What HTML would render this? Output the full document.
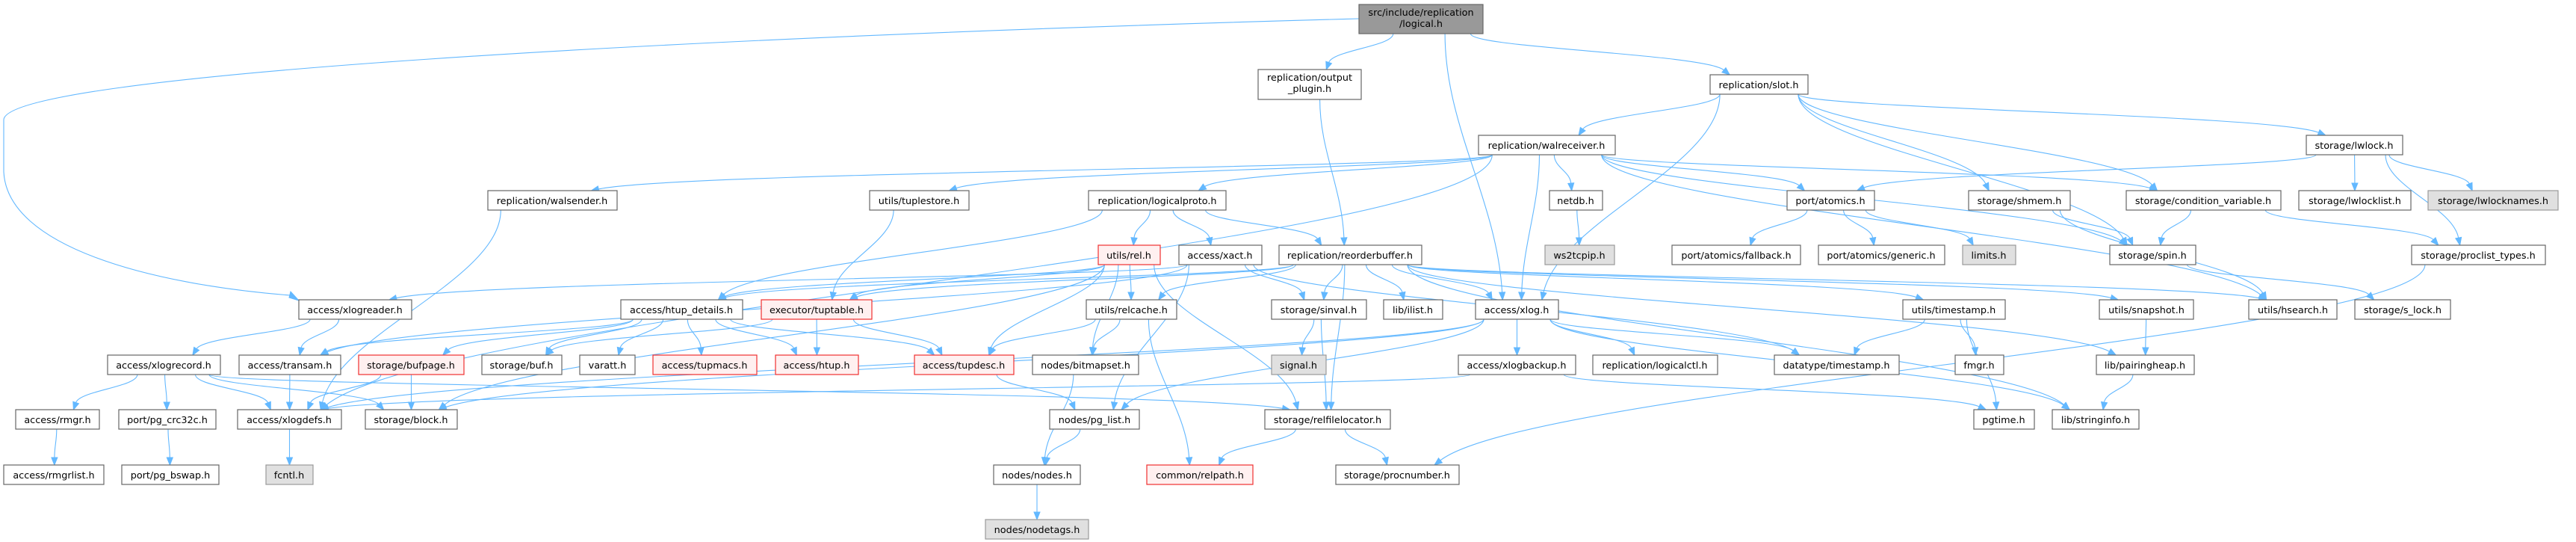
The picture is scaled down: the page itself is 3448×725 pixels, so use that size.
<!DOCTYPE html>
<html><head><meta charset="utf-8">
<style>
html,body{margin:0;padding:0;background:#fff;}
svg{display:block;}
text{font-family:"DejaVu Sans","Liberation Sans",sans-serif;font-size:12.8px;fill:#000;text-anchor:middle;}
.n{fill:#fff;stroke:#666;stroke-width:1.2;}
.r{fill:#fff0f0;stroke:#f03030;stroke-width:1.2;}
.g{fill:#e0e0e0;stroke:#999;stroke-width:1.2;}
.root{fill:#999;stroke:#666;stroke-width:1.2;}
.e{fill:none;stroke:#63b8ff;stroke-width:1.1;}
.a{fill:#63b8ff;stroke:#63b8ff;}
</style></head>
<body>
<svg id="s" width="3448" height="725" viewBox="0 0 3448 725" xmlns="http://www.w3.org/2000/svg">
<g id="edges"></g>
<g id="nodes">
<rect class="root" x="1819" y="6" width="166" height="39"/><text x="1902" y="21">src/include/replication</text><text x="1902" y="36">/logical.h</text>
<rect class="n" x="1684" y="93" width="138" height="40"/><text x="1753" y="108">replication/output</text><text x="1753" y="123">_plugin.h</text>
<rect class="n" x="2289" y="100" width="131" height="26"/><text x="2354" y="118">replication/slot.h</text>
<rect class="n" x="1979" y="181" width="183" height="26"/><text x="2070" y="199">replication/walreceiver.h</text>
<rect class="n" x="3087" y="181" width="129" height="26"/><text x="3151" y="199">storage/lwlock.h</text>

<rect class="n" x="653" y="255" width="173" height="26"/><text x="739" y="273">replication/walsender.h</text>
<rect class="n" x="1164" y="255" width="133" height="26"/><text x="1230" y="273">utils/tuplestore.h</text>
<rect class="n" x="1457" y="255" width="184" height="26"/><text x="1549" y="273">replication/logicalproto.h</text>
<rect class="n" x="2074" y="255" width="71" height="26"/><text x="2109" y="273">netdb.h</text>
<rect class="n" x="2392" y="255" width="117" height="26"/><text x="2450" y="273">port/atomics.h</text>
<rect class="n" x="2635" y="255" width="136" height="26"/><text x="2703" y="273">storage/shmem.h</text>
<rect class="n" x="2846" y="255" width="207" height="26"/><text x="2949" y="273">storage/condition_variable.h</text>
<rect class="n" x="3077" y="255" width="150" height="26"/><text x="3152" y="273">storage/lwlocklist.h</text>
<rect class="g" x="3250" y="255" width="174" height="26"/><text x="3337" y="273">storage/lwlocknames.h</text>

<rect class="r" x="1470" y="328" width="83" height="26"/><text x="1511" y="346">utils/rel.h</text>
<rect class="n" x="1578" y="328" width="111" height="26"/><text x="1633" y="346">access/xact.h</text>
<rect class="n" x="1712" y="328" width="191" height="26"/><text x="1807" y="346">replication/reorderbuffer.h</text>
<rect class="g" x="2068" y="328" width="93" height="26"/><text x="2114" y="346">ws2tcpip.h</text>
<rect class="n" x="2238" y="328" width="172" height="26"/><text x="2324" y="346">port/atomics/fallback.h</text>
<rect class="n" x="2434" y="328" width="169" height="26"/><text x="2518" y="346">port/atomics/generic.h</text>
<rect class="g" x="2627" y="328" width="71" height="26"/><text x="2662" y="346">limits.h</text>
<rect class="n" x="2824" y="328" width="115" height="26"/><text x="2881" y="346">storage/spin.h</text>
<rect class="n" x="3228" y="328" width="179" height="26"/><text x="3317" y="346">storage/proclist_types.h</text>

<rect class="n" x="400" y="401" width="151" height="26"/><text x="475" y="419">access/xlogreader.h</text>
<rect class="n" x="831" y="401" width="163" height="26"/><text x="912" y="419">access/htup_details.h</text>
<rect class="r" x="1019" y="401" width="148" height="26"/><text x="1093" y="419">executor/tuptable.h</text>
<rect class="n" x="1454" y="401" width="121" height="26"/><text x="1514" y="419">utils/relcache.h</text>
<rect class="n" x="1702" y="401" width="127" height="26"/><text x="1765" y="419">storage/sinval.h</text>
<rect class="n" x="1852" y="401" width="79" height="26"/><text x="1891" y="419">lib/ilist.h</text>
<rect class="n" x="1975" y="401" width="111" height="26"/><text x="2030" y="419">access/xlog.h</text>
<rect class="n" x="2547" y="401" width="137" height="26"/><text x="2615" y="419">utils/timestamp.h</text>
<rect class="n" x="2810" y="401" width="126" height="26"/><text x="2873" y="419">utils/snapshot.h</text>
<rect class="n" x="3010" y="401" width="118" height="26"/><text x="3069" y="419">utils/hsearch.h</text>
<rect class="n" x="3152" y="401" width="128" height="26"/><text x="3216" y="419">storage/s_lock.h</text>

<rect class="n" x="144" y="475" width="151" height="26"/><text x="219" y="493">access/xlogrecord.h</text>
<rect class="n" x="320" y="475" width="136" height="26"/><text x="388" y="493">access/transam.h</text>
<rect class="r" x="480" y="475" width="141" height="26"/><text x="550" y="493">storage/bufpage.h</text>
<rect class="n" x="645" y="475" width="107" height="26"/><text x="698" y="493">storage/buf.h</text>
<rect class="n" x="776" y="475" width="74" height="26"/><text x="813" y="493">varatt.h</text>
<rect class="r" x="874" y="475" width="139" height="26"/><text x="943" y="493">access/tupmacs.h</text>
<rect class="r" x="1038" y="475" width="111" height="26"/><text x="1093" y="493">access/htup.h</text>
<rect class="r" x="1224" y="475" width="133" height="26"/><text x="1290" y="493">access/tupdesc.h</text>
<rect class="n" x="1382" y="475" width="142" height="26"/><text x="1453" y="493">nodes/bitmapset.h</text>
<rect class="g" x="1702" y="475" width="73" height="26"/><text x="1738" y="493">signal.h</text>
<rect class="n" x="1952" y="475" width="157" height="26"/><text x="2030" y="493">access/xlogbackup.h</text>
<rect class="n" x="2132" y="475" width="167" height="26"/><text x="2215" y="493">replication/logicalctl.h</text>
<rect class="n" x="2375" y="475" width="167" height="26"/><text x="2458" y="493">datatype/timestamp.h</text>
<rect class="n" x="2617" y="475" width="65" height="26"/><text x="2649" y="493">fmgr.h</text>
<rect class="n" x="2806" y="475" width="131" height="26"/><text x="2871" y="493">lib/pairingheap.h</text>

<rect class="n" x="21" y="548" width="112" height="26"/><text x="77" y="566">access/rmgr.h</text>
<rect class="n" x="159" y="548" width="130" height="26"/><text x="224" y="566">port/pg_crc32c.h</text>
<rect class="n" x="318" y="548" width="139" height="26"/><text x="387" y="566">access/xlogdefs.h</text>
<rect class="n" x="489" y="548" width="123" height="26"/><text x="550" y="566">storage/block.h</text>
<rect class="n" x="1405" y="548" width="120" height="26"/><text x="1465" y="566">nodes/pg_list.h</text>
<rect class="n" x="1693" y="548" width="168" height="26"/><text x="1777" y="566">storage/relfilelocator.h</text>
<rect class="n" x="2642" y="548" width="81" height="26"/><text x="2682" y="566">pgtime.h</text>
<rect class="n" x="2747" y="548" width="116" height="26"/><text x="2805" y="566">lib/stringinfo.h</text>

<rect class="n" x="5" y="622" width="134" height="26"/><text x="72" y="640">access/rmgrlist.h</text>
<rect class="n" x="163" y="622" width="130" height="26"/><text x="228" y="640">port/pg_bswap.h</text>
<rect class="g" x="356" y="622" width="63" height="26"/><text x="387" y="640">fcntl.h</text>
<rect class="n" x="1330" y="622" width="116" height="26"/><text x="1388" y="640">nodes/nodes.h</text>
<rect class="r" x="1535" y="622" width="142" height="26"/><text x="1606" y="640">common/relpath.h</text>
<rect class="n" x="1788" y="622" width="165" height="26"/><text x="1870" y="640">storage/procnumber.h</text>

<rect class="g" x="1319" y="695" width="138" height="26"/><text x="1388" y="713">nodes/nodetags.h</text>
</g>
</svg>
<script>
(function(){
var N={
root:[1819,6,166,39],op:[1684,93,138,40],slot:[2289,100,131,26],walrcv:[1979,181,183,26],lwlock:[3087,181,129,26],
walsnd:[653,255,173,26],tstore:[1164,255,133,26],lproto:[1457,255,184,26],netdb:[2074,255,71,26],atomics:[2392,255,117,26],shmem:[2635,255,136,26],cv:[2846,255,207,26],lwlist:[3077,255,150,26],lwnames:[3250,255,174,26],
rel:[1470,328,83,26],xact:[1578,328,111,26],rb:[1712,328,191,26],ws2:[2068,328,93,26],fb:[2238,328,172,26],gen:[2434,328,169,26],limits:[2627,328,71,26],spin:[2824,328,115,26],plt:[3228,328,179,26],
xlr:[400,401,151,26],hd:[831,401,163,26],tt:[1019,401,148,26],relc:[1454,401,121,26],sinval:[1702,401,127,26],ilist:[1852,401,79,26],xlog:[1975,401,111,26],uts:[2547,401,137,26],snap:[2810,401,126,26],hs:[3010,401,118,26],slock:[3152,401,128,26],
xrec:[144,475,151,26],transam:[320,475,136,26],bufpage:[480,475,141,26],buf:[645,475,107,26],varatt:[776,475,74,26],tupmacs:[874,475,139,26],htup:[1038,475,111,26],tupdesc:[1224,475,133,26],bms:[1382,475,142,26],signal:[1702,475,73,26],xbk:[1952,475,157,26],lctl:[2132,475,167,26],dts:[2375,475,167,26],fmgr:[2617,475,65,26],ph:[2806,475,131,26],
rmgr:[21,548,112,26],crc:[159,548,130,26],xdefs:[318,548,139,26],block:[489,548,123,26],pglist:[1405,548,120,26],rfl:[1693,548,168,26],pgtime:[2642,548,81,26],si:[2747,548,116,26],
rmgrlist:[5,622,134,26],bswap:[163,622,130,26],fcntl:[356,622,63,26],nodes:[1330,622,116,26],relpath:[1535,622,142,26],procnum:[1788,622,165,26],nodetags:[1319,695,138,26]};
var E=[["root","op"],["root","slot"],["root","xlog"],["op","rb"],
["slot","walrcv"],["slot","xlog"],["slot","lwlock"],["slot","shmem"],["slot","spin"],["slot","cv"],
["walrcv","walsnd"],["walrcv","tstore"],["walrcv","lproto"],["walrcv","netdb"],["walrcv","xlog"],["walrcv","atomics"],["walrcv","cv"],["walrcv","spin"],["walrcv","hs"],["walrcv","xdefs"],
["netdb","ws2"],
["walsnd","xdefs"],["tstore","tt"],
["lproto","rel"],["lproto","xact"],["lproto","rb"],["lproto","hd"],
["rel","relc"],["rel","tupdesc"],["rel","bms"],["rel","rfl"],["rel","hd"],["rel","block"],["rel","tt"],
["xact","pglist"],["xact","sinval"],["xact","dts"],["xact","transam"],["xact","xlr"],
["rb","sinval"],["rb","ilist"],["rb","xlog"],["rb","hd"],["rb","tt"],["rb","uts"],["rb","snap"],["rb","hs"],["rb","rfl"],["rb","ph"],["rb","si"],["rb","relc"],
["relc","tupdesc"],["relc","bms"],["relc","relpath"],["sinval","signal"],["sinval","rfl"],
["xlog","xdefs"],["xlog","xbk"],["xlog","lctl"],["xlog","dts"],["xlog","si"],["xlog","pglist"],["xlog","block"],
["xbk","xdefs"],["xbk","pgtime"],
["xlr","xrec"],["xlr","transam"],["xrec","rmgr"],["xrec","crc"],["xrec","xdefs"],["xrec","block"],["xrec","rfl"],
["rmgr","rmgrlist"],["crc","bswap"],["xdefs","fcntl"],["transam","xdefs"],["bufpage","xdefs"],["bufpage","block"],
["hd","bufpage"],["hd","buf"],["hd","varatt"],["hd","tupmacs"],["hd","htup"],["hd","tupdesc"],["hd","transam"],
["tt","buf"],["tt","htup"],["tt","tupdesc"],["tupdesc","pglist"],["bms","nodes"],["pglist","nodes"],["nodes","nodetags"],
["rfl","relpath"],["rfl","procnum"],["atomics","fb"],["atomics","gen"],["atomics","limits"],["shmem","spin"],["shmem","hs"],
["cv","spin"],["cv","plt"],["lwlock","atomics"],["lwlock","lwlist"],["lwlock","lwnames"],["lwlock","plt"],["spin","slock"],["plt","procnum"],
["uts","dts"],["uts","fmgr"],["uts","pgtime"],["snap","ph"],["ph","si"]];
var g=document.getElementById("edges"),h="";
E.forEach(function(e){
 var s=N[e[0]],t=N[e[1]];
 var scx=s[0]+s[2]/2,tcx=t[0]+t[2]/2;
 var sx=scx+Math.max(-s[2]*0.4,Math.min(s[2]*0.4,(tcx-scx)*0.25)),sy=s[1]+s[3];
 var tx=tcx+Math.max(-t[2]*0.3,Math.min(t[2]*0.3,(scx-tcx)*0.15)),ty=t[1];
 var dy=ty-sy;
 var ey=ty-9, c2y=ey-Math.max(10,dy*0.35), c1y=sy+Math.max(10,dy*0.35);
 var vx=tx-(tx-sx)*0.1, vy=c2y;
 var ax=tx-vx, ay=ty-vy, L=Math.sqrt(ax*ax+ay*ay); ax/=L; ay/=L;
 var bx=tx-ax*10, by=ty-ay*10;
 h+='<path class="e" d="M'+sx.toFixed(1)+' '+sy+' C'+sx.toFixed(1)+' '+c1y.toFixed(1)+' '+vx.toFixed(1)+' '+vy.toFixed(1)+' '+bx.toFixed(1)+' '+by.toFixed(1)+'"/>';
 var px=-ay*4,py=ax*4;
 h+='<polygon class="a" points="'+tx.toFixed(1)+','+ty+' '+(bx+px).toFixed(1)+','+(by+py).toFixed(1)+' '+(bx-px).toFixed(1)+','+(by-py).toFixed(1)+'"/>';
});
h+='<path class="e" d="M1819 25 C900 50 10 100 5 160 L5 230 C10 330 200 380 388 395"/><polygon class="a" points="400,402 387,398 389,390"/>';
g.innerHTML=h;
})();
</script>
</body></html>
